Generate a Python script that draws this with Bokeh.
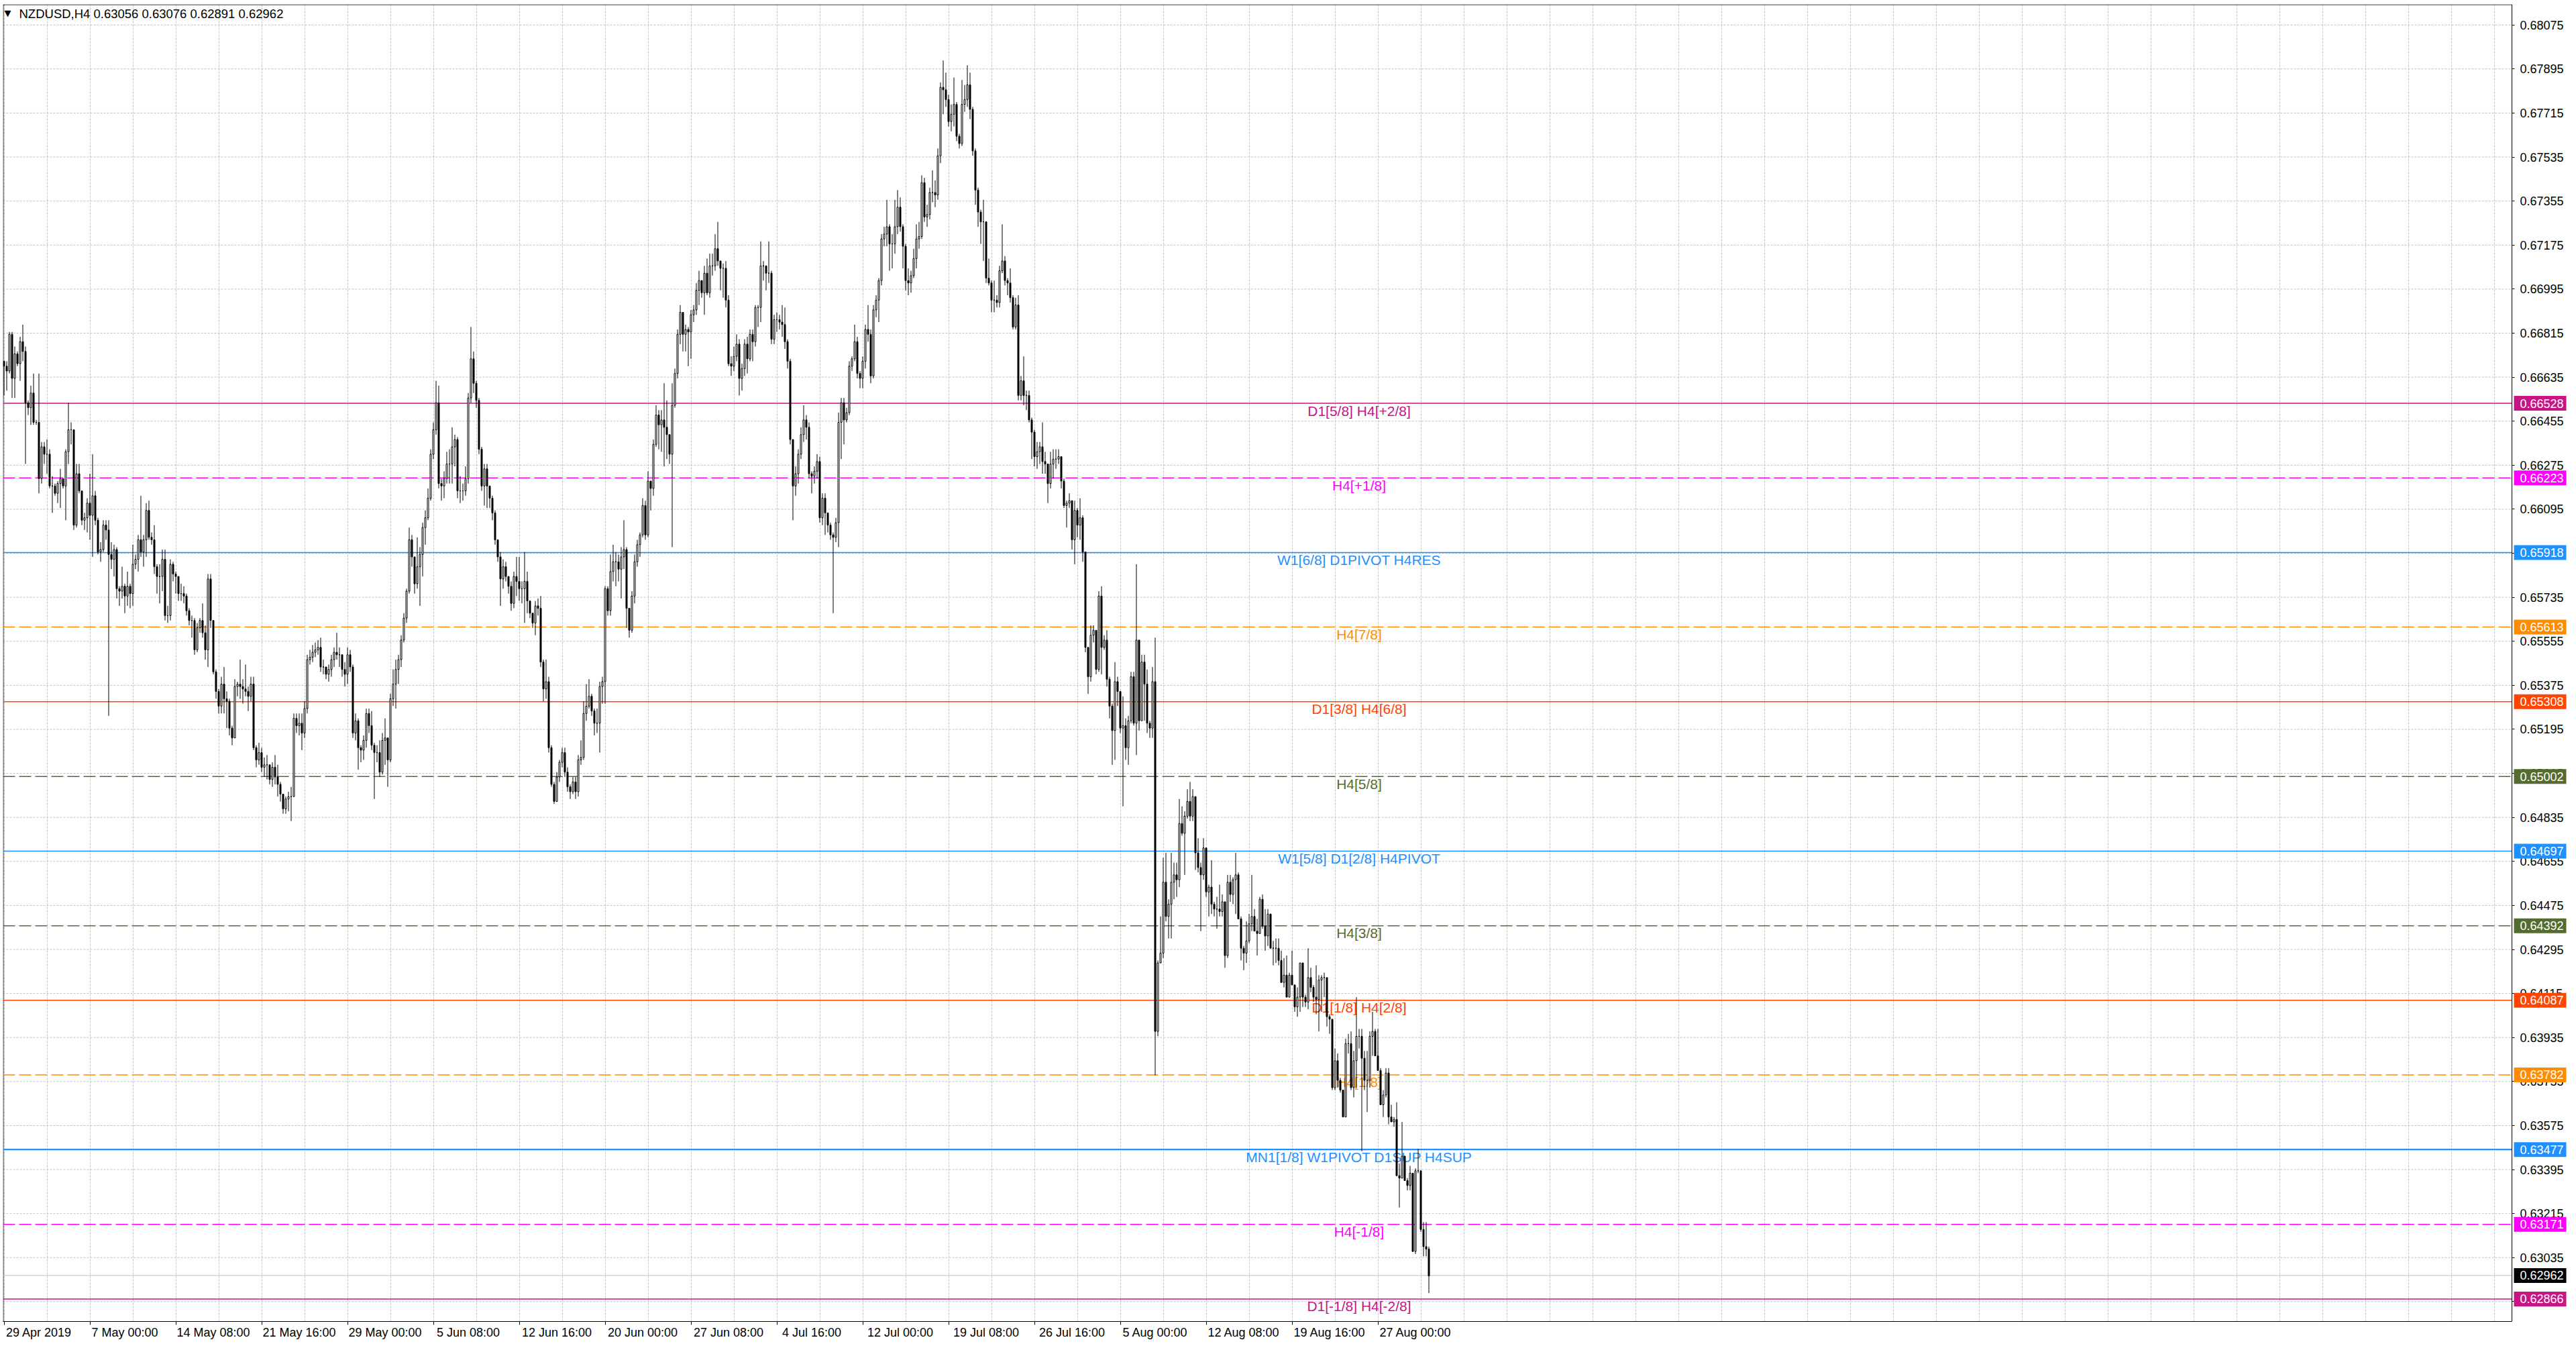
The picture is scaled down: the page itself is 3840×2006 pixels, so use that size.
from bokeh.plotting import figure
from bokeh.models import ColumnDataSource, Range1d, FixedTicker, PrintfTickFormatter
from bokeh.core.properties import value
from bokeh.embed import file_html
from bokeh.resources import INLINE

chart_title = "NZDUSD,H4  0.63056 0.63076 0.62891 0.62962"

# H4 bars, prices in pips (6652 = 0.6652); open of a bar = previous close
first_open = 6670
close = [
    6668, 6666, 6681, 6663, 6673, 6669, 6678, 6674, 6653, 6651, 6657, 6645, 6645, 6622, 6635, 6632,
    6632, 6619, 6619, 6616, 6620, 6622, 6619, 6633, 6642, 6642, 6603, 6624, 6617, 6605, 6606, 6612,
    6607, 6615, 6605, 6592, 6593, 6603, 6601, 6591, 6589, 6593, 6577, 6576, 6578, 6574, 6578, 6575,
    6587, 6589, 6597, 6592, 6597, 6609, 6598, 6597, 6586, 6582, 6582, 6589, 6566, 6566, 6587, 6583,
    6582, 6575, 6575, 6574, 6568, 6564, 6564, 6552, 6561, 6564, 6559, 6552, 6581, 6564, 6543, 6535,
    6529, 6538, 6532, 6531, 6520, 6516, 6537, 6538, 6537, 6536, 6535, 6533, 6538, 6512, 6507, 6510,
    6504, 6505, 6505, 6499, 6504, 6500, 6497, 6493, 6487, 6491, 6492, 6492, 6524, 6521, 6522, 6518,
    6528, 6548, 6549, 6551, 6552, 6553, 6545, 6545, 6542, 6544, 6548, 6551, 6550, 6550, 6544, 6542,
    6550, 6545, 6518, 6523, 6512, 6511, 6515, 6526, 6521, 6513, 6510, 6510, 6502, 6515, 6516, 6507,
    6532, 6538, 6544, 6548, 6556, 6565, 6576, 6597, 6590, 6579, 6586, 6591, 6602, 6606, 6614, 6632,
    6642, 6653, 6620, 6619, 6622, 6628, 6628, 6635, 6638, 6617, 6617, 6617, 6622, 6655, 6671, 6661,
    6654, 6634, 6619, 6626, 6619, 6614, 6608, 6597, 6590, 6581, 6586, 6582, 6578, 6571, 6582, 6580,
    6577, 6577, 6580, 6572, 6567, 6563, 6570, 6569, 6547, 6536, 6539, 6512, 6497, 6490, 6500, 6506,
    6510, 6502, 6496, 6494, 6498, 6494, 6507, 6508, 6526, 6529, 6533, 6527, 6522, 6522, 6537, 6539,
    6577, 6568, 6584, 6588, 6588, 6585, 6590, 6593, 6569, 6560, 6574, 6588, 6595, 6599, 6611, 6599,
    6621, 6618, 6636, 6648, 6644, 6646, 6643, 6640, 6632, 6652, 6665, 6681, 6690, 6681, 6683, 6682,
    6689, 6691, 6699, 6703, 6698, 6706, 6698, 6709, 6709, 6716, 6711, 6708, 6708, 6695, 6669, 6668,
    6672, 6677, 6663, 6667, 6677, 6671, 6681, 6678, 6692, 6692, 6709, 6709, 6706, 6706, 6679, 6687,
    6687, 6686, 6685, 6678, 6670, 6638, 6619, 6624, 6632, 6640, 6646, 6643, 6624, 6623, 6625, 6629,
    6606, 6614, 6608, 6603, 6599, 6598, 6604, 6645, 6653, 6646, 6649, 6668, 6671, 6678, 6665, 6663,
    6670, 6683, 6681, 6664, 6691, 6695, 6703, 6720, 6722, 6725, 6718, 6718, 6725, 6733, 6725, 6717,
    6703, 6702, 6705, 6712, 6720, 6721, 6743, 6729, 6730, 6739, 6739, 6738, 6754, 6782, 6781, 6777,
    6768, 6771, 6775, 6762, 6759, 6775, 6777, 6783, 6773, 6756, 6740, 6731, 6727, 6727, 6704, 6702,
    6695, 6695, 6694, 6707, 6711, 6703, 6702, 6696, 6684, 6693, 6656, 6662, 6656, 6656, 6646, 6641,
    6631, 6633, 6635, 6629, 6628, 6620, 6628, 6630, 6630, 6631, 6621, 6611, 6612, 6613, 6597, 6609,
    6603, 6606, 6592, 6553, 6541, 6558, 6560, 6544, 6574, 6553, 6556, 6540, 6529, 6519, 6539, 6535,
    6520, 6521, 6512, 6523, 6541, 6522, 6556, 6523, 6547, 6538, 6522, 6520, 6539, 6396, 6424, 6428,
    6457, 6443, 6448, 6457, 6460, 6458, 6481, 6477, 6484, 6490, 6484, 6492, 6469, 6463, 6460, 6471,
    6453, 6455, 6448, 6446, 6446, 6445, 6449, 6427, 6457, 6452, 6458, 6460, 6442, 6430, 6428, 6433,
    6440, 6443, 6437, 6436, 6450, 6439, 6435, 6444, 6430, 6430, 6430, 6425, 6416, 6419, 6410, 6419,
    6415, 6406, 6410, 6424, 6410, 6408, 6418, 6414, 6410, 6409, 6417, 6418, 6418, 6402, 6401, 6373,
    6384, 6376, 6372, 6361, 6391, 6391, 6373, 6384, 6394, 6394, 6385, 6376, 6376, 6394, 6396, 6386,
    6380, 6366, 6370, 6379, 6361, 6359, 6360, 6337, 6336, 6345, 6335, 6333, 6338, 6306, 6339, 6339,
    6315, 6308, 6307, 6296,
]
high = [
    6670, 6670, 6682, 6682, 6676, 6674, 6680, 6685, 6676, 6654, 6660, 6665, 6646, 6665, 6637, 6637,
    6638, 6634, 6623, 6620, 6621, 6626, 6622, 6634, 6653, 6645, 6628, 6628, 6628, 6617, 6608, 6614,
    6624, 6632, 6617, 6606, 6596, 6605, 6605, 6605, 6596, 6595, 6594, 6578, 6586, 6579, 6584, 6579,
    6595, 6591, 6599, 6615, 6599, 6612, 6613, 6600, 6603, 6587, 6587, 6593, 6593, 6570, 6589, 6588,
    6584, 6582, 6579, 6578, 6575, 6569, 6566, 6565, 6563, 6565, 6571, 6562, 6583, 6583, 6564, 6544,
    6536, 6541, 6545, 6535, 6532, 6521, 6540, 6539, 6548, 6540, 6546, 6537, 6541, 6541, 6513, 6514,
    6512, 6508, 6509, 6505, 6506, 6509, 6505, 6498, 6493, 6492, 6494, 6496, 6526, 6526, 6526, 6526,
    6531, 6550, 6552, 6554, 6555, 6556, 6557, 6548, 6545, 6546, 6550, 6553, 6559, 6553, 6550, 6547,
    6553, 6552, 6546, 6526, 6524, 6513, 6517, 6528, 6528, 6527, 6514, 6513, 6515, 6518, 6524, 6513,
    6534, 6544, 6548, 6550, 6558, 6567, 6577, 6602, 6599, 6590, 6598, 6594, 6604, 6609, 6618, 6634,
    6645, 6662, 6660, 6622, 6625, 6633, 6634, 6643, 6640, 6639, 6623, 6620, 6627, 6657, 6684, 6674,
    6662, 6655, 6635, 6628, 6628, 6616, 6615, 6609, 6597, 6592, 6589, 6588, 6582, 6580, 6584, 6590,
    6590, 6580, 6592, 6584, 6571, 6566, 6572, 6573, 6574, 6548, 6548, 6541, 6513, 6498, 6502, 6507,
    6512, 6512, 6504, 6497, 6500, 6500, 6509, 6515, 6531, 6538, 6540, 6534, 6528, 6528, 6539, 6541,
    6578, 6578, 6591, 6595, 6592, 6591, 6594, 6605, 6594, 6569, 6576, 6591, 6597, 6600, 6614, 6613,
    6625, 6621, 6638, 6652, 6650, 6650, 6661, 6654, 6640, 6661, 6667, 6683, 6693, 6690, 6685, 6684,
    6691, 6693, 6702, 6707, 6702, 6709, 6712, 6714, 6714, 6722, 6727, 6711, 6710, 6711, 6697, 6672,
    6676, 6681, 6679, 6669, 6679, 6680, 6683, 6683, 6693, 6693, 6719, 6711, 6709, 6719, 6707, 6689,
    6690, 6689, 6693, 6692, 6679, 6671, 6638, 6627, 6634, 6643, 6652, 6648, 6645, 6625, 6627, 6632,
    6631, 6616, 6616, 6607, 6604, 6600, 6606, 6649, 6655, 6655, 6651, 6670, 6672, 6685, 6680, 6666,
    6672, 6685, 6693, 6683, 6693, 6697, 6704, 6722, 6725, 6736, 6726, 6722, 6736, 6740, 6737, 6726,
    6718, 6708, 6707, 6716, 6726, 6727, 6746, 6745, 6734, 6741, 6748, 6744, 6757, 6784, 6793, 6788,
    6779, 6775, 6786, 6776, 6763, 6785, 6783, 6791, 6788, 6774, 6757, 6741, 6732, 6736, 6727, 6712,
    6703, 6703, 6697, 6709, 6726, 6713, 6704, 6708, 6697, 6696, 6697, 6664, 6672, 6658, 6658, 6647,
    6642, 6637, 6637, 6645, 6633, 6628, 6633, 6634, 6634, 6634, 6631, 6622, 6613, 6616, 6613, 6613,
    6610, 6614, 6607, 6592, 6553, 6562, 6562, 6560, 6576, 6578, 6558, 6560, 6541, 6530, 6547, 6541,
    6524, 6533, 6524, 6525, 6543, 6543, 6587, 6556, 6550, 6550, 6544, 6523, 6545, 6557, 6425, 6443,
    6467, 6469, 6450, 6469, 6465, 6465, 6491, 6488, 6486, 6495, 6498, 6495, 6492, 6475, 6465, 6475,
    6471, 6456, 6466, 6449, 6451, 6456, 6452, 6449, 6460, 6460, 6459, 6469, 6461, 6443, 6431, 6441,
    6444, 6460, 6446, 6442, 6451, 6452, 6446, 6446, 6444, 6433, 6434, 6434, 6429, 6426, 6427, 6420,
    6429, 6414, 6414, 6424, 6424, 6411, 6430, 6422, 6415, 6423, 6419, 6419, 6420, 6413, 6403, 6401,
    6389, 6387, 6377, 6372, 6393, 6395, 6396, 6388, 6410, 6397, 6397, 6388, 6388, 6396, 6404, 6397,
    6397, 6381, 6372, 6381, 6381, 6366, 6361, 6367, 6342, 6359, 6345, 6336, 6341, 6338, 6340, 6348,
    6339, 6318, 6318, 6308,
]
low = [
    6656, 6658, 6665, 6655, 6655, 6668, 6662, 6670, 6628, 6648, 6644, 6644, 6644, 6616, 6620, 6628,
    6624, 6618, 6608, 6615, 6612, 6610, 6618, 6605, 6628, 6636, 6601, 6602, 6616, 6603, 6601, 6600,
    6597, 6590, 6603, 6591, 6588, 6592, 6597, 6525, 6585, 6582, 6573, 6570, 6573, 6567, 6570, 6569,
    6570, 6585, 6584, 6590, 6586, 6590, 6597, 6595, 6583, 6575, 6571, 6576, 6564, 6563, 6564, 6580,
    6575, 6572, 6572, 6571, 6566, 6562, 6557, 6550, 6551, 6559, 6557, 6548, 6545, 6561, 6542, 6532,
    6526, 6526, 6526, 6520, 6517, 6513, 6516, 6533, 6532, 6530, 6533, 6527, 6531, 6511, 6504, 6505,
    6502, 6500, 6499, 6497, 6496, 6497, 6492, 6490, 6485, 6485, 6486, 6482, 6492, 6518, 6517, 6511,
    6516, 6526, 6546, 6547, 6549, 6550, 6543, 6542, 6540, 6539, 6541, 6545, 6548, 6545, 6541, 6537,
    6538, 6543, 6516, 6515, 6503, 6506, 6507, 6512, 6518, 6511, 6491, 6506, 6500, 6501, 6505, 6496,
    6506, 6529, 6528, 6538, 6545, 6555, 6563, 6575, 6586, 6575, 6577, 6570, 6582, 6595, 6605, 6613,
    6630, 6640, 6618, 6613, 6614, 6620, 6620, 6620, 6627, 6614, 6612, 6613, 6615, 6620, 6653, 6657,
    6651, 6632, 6617, 6611, 6610, 6610, 6605, 6595, 6588, 6570, 6577, 6580, 6575, 6568, 6569, 6574,
    6572, 6571, 6563, 6567, 6565, 6561, 6558, 6566, 6545, 6531, 6532, 6510, 6496, 6489, 6490, 6498,
    6504, 6500, 6494, 6491, 6493, 6491, 6492, 6505, 6507, 6523, 6528, 6525, 6517, 6518, 6510, 6530,
    6530, 6566, 6566, 6580, 6578, 6580, 6573, 6585, 6561, 6557, 6559, 6571, 6586, 6590, 6598, 6597,
    6598, 6609, 6615, 6635, 6634, 6633, 6627, 6630, 6628, 6594, 6651, 6663, 6677, 6674, 6674, 6668,
    6671, 6686, 6689, 6693, 6696, 6689, 6697, 6696, 6705, 6707, 6709, 6699, 6696, 6692, 6668, 6664,
    6666, 6670, 6656, 6658, 6664, 6665, 6670, 6670, 6676, 6684, 6686, 6703, 6699, 6702, 6677, 6677,
    6682, 6683, 6680, 6675, 6667, 6636, 6605, 6615, 6620, 6630, 6637, 6638, 6622, 6616, 6620, 6622,
    6604, 6603, 6599, 6600, 6597, 6567, 6596, 6594, 6630, 6636, 6645, 6648, 6666, 6670, 6663, 6659,
    6659, 6667, 6678, 6661, 6663, 6688, 6686, 6701, 6717, 6717, 6707, 6708, 6714, 6722, 6723, 6708,
    6699, 6697, 6698, 6704, 6708, 6716, 6720, 6727, 6725, 6728, 6735, 6733, 6736, 6751, 6771, 6774,
    6766, 6764, 6766, 6760, 6757, 6758, 6772, 6774, 6769, 6754, 6734, 6725, 6718, 6711, 6702, 6701,
    6690, 6690, 6692, 6692, 6706, 6701, 6697, 6694, 6683, 6683, 6654, 6654, 6652, 6650, 6645, 6630,
    6627, 6626, 6628, 6624, 6624, 6612, 6618, 6622, 6626, 6628, 6618, 6610, 6602, 6610, 6593, 6587,
    6598, 6597, 6588, 6551, 6534, 6539, 6555, 6542, 6543, 6542, 6552, 6537, 6524, 6505, 6507, 6529,
    6518, 6488, 6507, 6505, 6522, 6521, 6509, 6519, 6529, 6523, 6518, 6516, 6516, 6378, 6394, 6424,
    6426, 6441, 6434, 6434, 6450, 6451, 6455, 6476, 6460, 6483, 6482, 6482, 6462, 6461, 6437, 6458,
    6451, 6443, 6444, 6443, 6438, 6443, 6443, 6422, 6426, 6449, 6448, 6444, 6442, 6425, 6421, 6424,
    6432, 6437, 6437, 6427, 6436, 6438, 6429, 6431, 6430, 6423, 6424, 6423, 6416, 6414, 6410, 6410,
    6415, 6404, 6402, 6404, 6406, 6406, 6405, 6412, 6408, 6403, 6396, 6404, 6410, 6398, 6395, 6372,
    6372, 6373, 6371, 6361, 6361, 6387, 6372, 6369, 6373, 6389, 6347, 6372, 6363, 6373, 6386, 6386,
    6380, 6366, 6361, 6369, 6358, 6359, 6357, 6337, 6324, 6337, 6335, 6331, 6331, 6306, 6305, 6338,
    6314, 6304, 6304, 6289,
]

time_labels = [
    "29 Apr 2019", "7 May 00:00", "14 May 08:00", "21 May 16:00", "29 May 00:00",
    "5 Jun 08:00", "12 Jun 16:00", "20 Jun 00:00", "27 Jun 08:00", "4 Jul 16:00",
    "12 Jul 00:00", "19 Jul 08:00", "26 Jul 16:00", "5 Aug 00:00", "12 Aug 08:00",
    "19 Aug 16:00", "27 Aug 00:00",
]

price_ticks = [
    0.68075, 0.67895, 0.67715, 0.67535, 0.67355, 0.67175, 0.66995, 0.66815, 0.66635, 0.66455,
    0.66275, 0.66095, 0.65915, 0.65735, 0.65555, 0.65375, 0.65195, 0.65015, 0.64835, 0.64655,
    0.64475, 0.64295, 0.64115, 0.63935, 0.63755, 0.63575, 0.63395, 0.63215, 0.63035, 0.62855,
]

level_price = [0.66528, 0.66223, 0.65918, 0.65613, 0.65308, 0.65002, 0.64697,
               0.64392, 0.64087, 0.63782, 0.63477, 0.63171, 0.62866]
level_text = ["D1[5/8] H4[+2/8]", "H4[+1/8]", "W1[6/8] D1PIVOT H4RES", "H4[7/8]",
              "D1[3/8] H4[6/8]", "H4[5/8]", "W1[5/8] D1[2/8] H4PIVOT", "H4[3/8]",
              "D1[1/8] H4[2/8]", "H4[1/8]", "MN1[1/8] W1PIVOT D1SUP H4SUP", "H4[-1/8]",
              "D1[-1/8] H4[-2/8]"]
bid_price = 0.62962

# styles of the levels
level_color = ["#C71585", "#FF00FF", "#1E90FF", "#FF8C00", "#FF4500", "#556B2F", "#1E90FF",
               "#556B2F", "#FF4500", "#FF8C00", "#1E90FF", "#FF00FF", "#C71585"]
level_dashed = [False, True, False, True, False, True, False, True, False, True, False, True, False]
level_width = [1.5, 1.5, 1.5, 1.5, 1.5, 1.5, 1.5, 1.5, 1.5, 1.5, 2.2, 1.5, 1.5]

FONT = "Liberation Sans"
PIP = 0.0001
BAR_PX = 4            # screen px per bar
PRICE_PX = 36450      # screen px per 1.0 of price
FRAME_LEFT, FRAME_TOP = 4, 6
FRAME_W, FRAME_H = 3834, 1963
AXIS_PX = 3744        # page x of the price axis line
FIRST_BAR_PX = 5.5    # page x of the first bar centre


def px_x(px):
    return x_lo + (px - FRAME_LEFT) / BAR_PX


x_lo = (FRAME_LEFT - FIRST_BAR_PX) / BAR_PX
x_hi = px_x(FRAME_LEFT + FRAME_W)
x_axis = px_x(AXIS_PX)
y_hi = 0.68075 + (36.7 - FRAME_TOP) / PRICE_PX
y_lo = y_hi - FRAME_H / PRICE_PX
one_px_y = 1 / PRICE_PX

opens = [first_open] + close[:-1]
xs = list(range(len(close)))
o = [v * PIP for v in opens]
c = [v * PIP for v in close]
candles = ColumnDataSource(dict(
    x=xs,
    high=[v * PIP for v in high],
    low=[v * PIP for v in low],
    top=[max(a, b) for a, b in zip(o, c)],
    bottom=[min(a, b) for a, b in zip(o, c)],
    fill=["white" if b >= a else "black" for a, b in zip(o, c)],
))

p = figure(frame_width=FRAME_W, frame_height=FRAME_H,
           x_range=Range1d(x_lo, x_hi), y_range=Range1d(y_lo, y_hi),
           output_backend="svg", toolbar_location=None, y_axis_location="right",
           min_border_left=FRAME_LEFT, min_border_top=FRAME_TOP, min_border_right=0,
           min_border_bottom=20,
           background_fill_color="white", border_fill_color="white",
           outline_line_color=None)

# grid: vertical lines every 16 bars, horizontal dotted lines stop at the price axis
p.xgrid.ticker = FixedTicker(ticks=[16 * k for k in range(59)])
p.xgrid.grid_line_color = "#c0c0c0"
p.xgrid.grid_line_dash = "3 2"
p.ygrid.visible = False
p.segment(x0=x_lo, x1=x_axis, y0=price_ticks, y1=price_ticks,
          line_color="#c0c0c0", line_dash="3 2", line_width=1)

# frame border (top and left); bottom is the time axis, right is the price axis
p.segment(x0=[x_lo, px_x(FRAME_LEFT + 0.5)], x1=[x_axis, px_x(FRAME_LEFT + 0.5)],
          y0=[y_hi - 0.5 * one_px_y, y_lo], y1=[y_hi - 0.5 * one_px_y, y_hi],
          line_color="black", line_width=1)

# price axis drawn at the edge of the chart area, labels to its right
yax = p.yaxis[0]
yax.fixed_location = x_axis
yax.ticker = FixedTicker(ticks=price_ticks)
yax.formatter = PrintfTickFormatter(format="%.5f")
yax.major_label_text_font = FONT
yax.major_label_text_font_size = "18px"
yax.major_label_text_color = "black"
yax.major_tick_out = 4
yax.major_tick_in = 0
yax.minor_tick_out = 0
yax.minor_tick_in = 0
yax.major_label_standoff = 8
yax.axis_line_color = "black"
yax.major_tick_line_color = "black"

# time axis, labels start at their tick
xax = p.xaxis[0]
tick_bars = [32 * k for k in range(len(time_labels))]
label_pos = [b + round(len(t) * 9.2 / 2 / BAR_PX) for b, t in zip(tick_bars, time_labels)]
xax.ticker = FixedTicker(ticks=label_pos, minor_ticks=tick_bars)
xax.major_label_overrides = {pos: t for pos, t in zip(label_pos, time_labels)}
xax.bounds = (x_lo, x_axis)
xax.major_label_text_font = FONT
xax.major_label_text_font_size = "18px"
xax.major_label_text_color = "black"
xax.major_tick_out = 0
xax.major_tick_in = 0
xax.minor_tick_out = 5
xax.minor_tick_in = 0
xax.minor_tick_line_color = "black"
xax.major_label_standoff = 1
xax.axis_line_color = "black"

# level lines
solid = [i for i, d in enumerate(level_dashed) if not d]
dashed = [i for i, d in enumerate(level_dashed) if d]
for idx, dash in ((solid, "solid"), (dashed, "18 6")):
    src = ColumnDataSource(dict(
        y=[level_price[i] for i in idx],
        color=[level_color[i] for i in idx],
        w=[level_width[i] for i in idx],
    ))
    p.segment(x0=x_lo, x1=x_axis, y0="y", y1="y", line_color="color", line_width="w",
              line_dash=dash, source=src)
p.segment(x0=[x_lo], x1=[x_axis], y0=[bid_price], y1=[bid_price], line_color="#c0c0c0", line_width=1)

levels = ColumnDataSource(dict(y=level_price, text=level_text, color=level_color))
p.text(x=505, y="y", text="text", text_color="color", source=levels,
       text_align="center", text_baseline="middle", y_offset=11,
       text_font=value(FONT), text_font_size="21px")

# candles: 1px wicks, 2px bodies with a 1px outline
p.segment(x0="x", y0="low", x1="x", y1="high", source=candles, line_color="black", line_width=1)
p.vbar(x="x", width=2 / BAR_PX, top="top", bottom="bottom", source=candles,
       fill_color="fill", line_color="black", line_width=1)

# symbol line at top left
p.text(x=[x_lo], y=[y_hi], text=["\u25BC"], x_offset=7, y_offset=13,
       text_align="center", text_baseline="middle", text_color="black",
       text_font=value("DejaVu Sans"), text_font_size="13px")
p.text(x=[x_lo], y=[y_hi], text=[chart_title], x_offset=24, y_offset=14,
       text_align="left", text_baseline="middle", text_color="black",
       text_font=value(FONT), text_font_size="18.5px")

# price tags over the axis labels
tags = ColumnDataSource(dict(
    y=level_price + [bid_price],
    text=[f"{v:.5f}" for v in level_price + [bid_price]],
    color=level_color + ["black"],
))
r1 = p.rect(x=px_x(3786), y="y", width=78, height=22, width_units="screen", height_units="screen",
            fill_color="color", line_color=None, source=tags)
r2 = p.text(x=px_x(3756), y="y", text="text", text_color="white", source=tags,
            text_align="left", text_baseline="middle",
            text_font=value(FONT), text_font_size="18px")
r1.level = "annotation"
r2.level = "annotation"

open("out.html", "w").write(file_html(p, INLINE))
